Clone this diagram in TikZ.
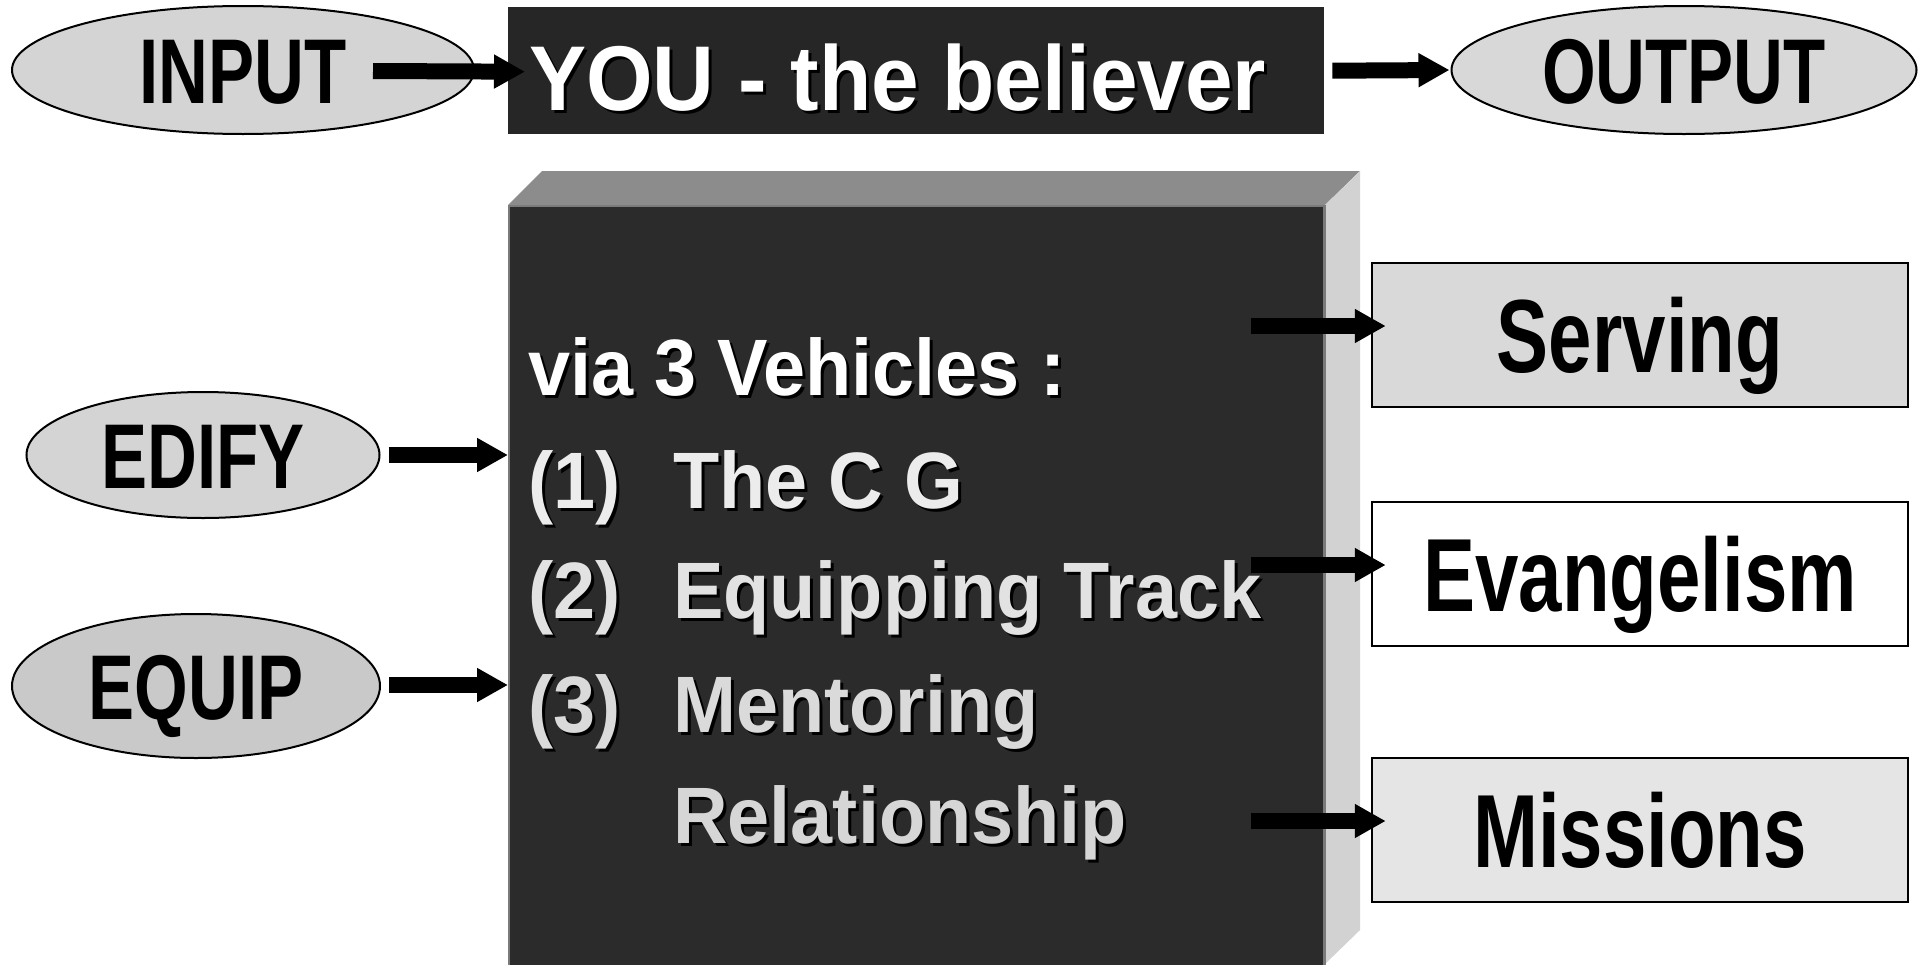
\documentclass[tikz,border=0pt]{standalone}
\usepackage{fontspec}
\setmainfont{Liberation Sans}
\newfontfamily\narrowfont{Liberation Sans}[FakeStretch=0.75]
\newfontfamily\tallfont{Liberation Sans}[FakeStretch=0.945]
\newfontfamily\youfont{Liberation Sans}[FakeStretch=0.93]
\usetikzlibrary{arrows.meta,shapes.geometric,calc}
\definecolor{ellA}{HTML}{D4D4D4}
\definecolor{ellB}{HTML}{C9C9C9}
\definecolor{ellC}{HTML}{D8D8D8}
\definecolor{youbg}{HTML}{262626}
\definecolor{frontbg}{HTML}{2B2B2B}
\definecolor{topface}{HTML}{8C8C8C}
\definecolor{sideface}{HTML}{D2D2D2}
\definecolor{edgegray}{HTML}{7A7A7A}
\definecolor{servfill}{HTML}{D9D9D9}
\definecolor{misfill}{HTML}{E5E5E5}
\definecolor{itemA}{HTML}{ECECEC}
\definecolor{itemB}{HTML}{E2E2E2}
\definecolor{itemC}{HTML}{DADADA}
\definecolor{itemD}{HTML}{D6D6D6}
\newcommand{\shtxt}[2]{\rlap{\kern3pt\raisebox{-3pt}{\color{black}#2}}{\color{#1}#2}}
\tikzset{
  ell/.style={ellipse, draw=black, line width=2pt, inner sep=0pt,
    font=\narrowfont\bfseries\fontsize{92pt}{98pt}\selectfont,
    text height=66pt, text depth=0pt},
  rbox/.style={rectangle, draw=black, line width=2.5pt, inner sep=0pt,
    minimum width=536pt, minimum height=144pt,
    font=\narrowfont\bfseries\fontsize{104pt}{110pt}\selectfont,
    text height=74pt, text depth=0pt},
  midtxt/.style={inner sep=0pt, anchor=base west,
    font=\tallfont\bfseries\fontsize{80pt}{86pt}\selectfont},
  fatarrow/.style={line width=16pt, draw=black,
    -{Triangle[length=31pt,width=32pt]}}
}
\begin{document}
\begin{tikzpicture}[x=1pt,y=-1pt]
\useasboundingbox (0,0) rectangle (1927,964);
\fill[white] (0,0) rectangle (1927,964);

% top row
\node[ell, fill=ellA, minimum width=462pt, minimum height=128pt] (input) at (243,70) {INPUT};
\node[ell, fill=ellC, minimum width=465pt, minimum height=128pt] (output) at (1684,70) {OUTPUT};
\node[rectangle, fill=youbg, inner sep=0pt, minimum width=816pt, minimum height=127pt, anchor=north west] (you) at (508,7) {};
\node[inner sep=0pt, anchor=base west, font=\youfont\bfseries\fontsize{92pt}{98pt}\selectfont] (youtxt) at (529,110) {\shtxt{white}{YOU - the believer}};

\draw[fatarrow] ($(input.east)+(-102,1)$) -- ($(you.west)+(17,1)$);
\draw[fatarrow] ($(you.east)+(8,0)$) -- ($(output.west)+(-1,0)$);

% 3D block
\node[rectangle, fill=frontbg, draw=edgegray, line width=2pt, inner sep=0pt,
  minimum width=815pt, minimum height=820pt, anchor=north west] (front) at (508,205) {};
\fill[topface] (front.north west) -- ($(front.north west)+(34,-34)$) -- ($(front.north east)+(35,-34)$) -- (front.north east) -- cycle;
\fill[sideface] (front.north east) -- ($(front.north east)+(35,-34)$) -- ($(front.north east)+(35,725)$) -- ($(front.north east)+(0,759)$) -- cycle;
\draw[edgegray, line width=2pt] (front.north east) -- ($(front.north east)+(0,780)$);

\node[midtxt] (via) at (528,395) {\shtxt{white}{via 3 Vehicles :}};
\node[midtxt] (v1) at (528,508) {\shtxt{itemA}{\makebox[145pt][l]{(1)}The C G}};
\node[midtxt] (v2) at (528,618) {\shtxt{itemB}{\makebox[145pt][l]{(2)}Equipping Track}};
\node[midtxt] (v3) at (528,732) {\shtxt{itemC}{\makebox[145pt][l]{(3)}Mentoring}};
\node[midtxt] (v4) at (673,843) {\shtxt{itemD}{Relationship}};

% left ellipses
\node[ell, fill=ellA, minimum width=353pt, minimum height=126pt] (edify) at (203,455) {EDIFY};
\node[ell, fill=ellB, minimum width=368pt, minimum height=144pt] (equip) at (196,686) {EQUIP};
\draw[fatarrow] ($(edify.east)+(8,0)$) -- (front.west |- edify.center);
\draw[fatarrow] ($(equip.east)+(8,-1)$) -- ($(front.west |- equip.center)+(0,-1)$);

% right boxes
\node[rbox, fill=servfill] (serving) at (1640,335) {Serving};
\node[rbox, fill=white] (evang) at (1640,574) {Evangelism};
\node[rbox, fill=misfill] (missions) at (1640,830) {Missions};
\draw[fatarrow] ($(serving.west)+(-120,-9)$) -- ($(serving.west)+(15,-9)$);
\draw[fatarrow] ($(evang.west)+(-120,-9)$) -- ($(evang.west)+(15,-9)$);
\draw[fatarrow] ($(missions.west)+(-120,-9)$) -- ($(missions.west)+(15,-9)$);
\end{tikzpicture}
\end{document}
